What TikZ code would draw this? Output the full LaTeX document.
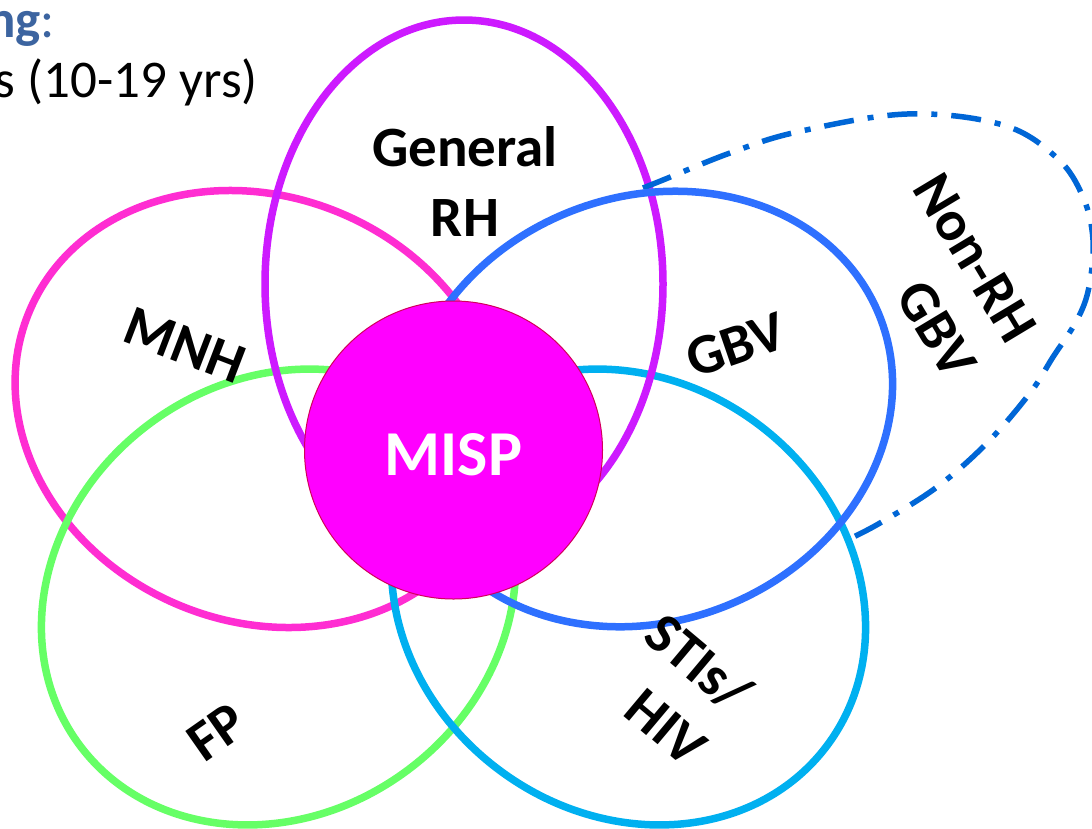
\documentclass[tikz,border=0pt]{standalone}
\usepackage{fontspec}
\setmainfont{Carlito}
\definecolor{cMNH}{RGB}{255,45,210}
\definecolor{cRH}{RGB}{205,26,255}
\definecolor{cGBV}{RGB}{46,112,255}
\definecolor{cFP}{RGB}{102,255,102}
\definecolor{cSTI}{RGB}{0,176,240}
\definecolor{cDash}{RGB}{0,102,214}
\definecolor{cMISP}{RGB}{255,0,255}
\definecolor{cMISPb}{RGB}{210,0,90}
\definecolor{cTitle}{RGB}{60,100,160}
\begin{document}
\begin{tikzpicture}[x=1pt,y=1pt,
  petal/.style={line width=7.5pt},
  dashdotline/.style={line width=5.5pt, color=cDash, dash pattern=on 30pt off 14pt on 6pt off 14pt},
  lbl/.style={font=\bfseries\fontsize{57}{70}\selectfont, text=black, inner sep=0pt},
  toptext/.style={font=\fontsize{53}{64}\selectfont, inner sep=0pt}
]
\useasboundingbox (0,0) rectangle (1092,-828);
\clip (0,0) rectangle (1092,-828);
\fill[white] (0,0) rectangle (1092,-828);

% top-left text
\node[toptext, anchor=base east, text=cTitle] (title) at (55,-37) {\textbf{ng}:};
\node[toptext, anchor=base east, text=black] (age) at (258,-97) {s (10-19 yrs)};

% petals
\draw[petal, cMNH, rotate around={-23.5:(259.5,-409)}] (259.5,-409) ellipse [x radius=250, y radius=212];
\draw[petal, cFP, rotate around={36.7:(278.5,-597)}] (278.5,-597) ellipse [x radius=248, y radius=216];
\draw[petal, cSTI, rotate around={-36.7:(628.5,-597)}] (628.5,-597) ellipse [x radius=248, y radius=216];
\draw[petal, cRH] (464,-284) ellipse [x radius=199, y radius=264];

% Non-RH GBV outline
\draw[dashdotline] plot[smooth, tension=0.6] coordinates {
 (643,-188) (663,-180) (730,-153) (797,-132) (907,-114) (1003,-125)
 (1057,-158) (1083,-197) (1093,-240) (1089,-287) (1077,-320) (1053,-357)
 (1030,-393) (987,-443) (937,-487) (880,-523) (847,-540)};

\draw[petal, cGBV, rotate around={22:(647.5,-409)}] (647.5,-409) ellipse [x radius=250, y radius=212];

% centre
\node[circle, minimum size=298, inner sep=0pt, fill=cMISP, draw=cMISPb, line width=1pt] (misp) at (453.5,-450) {};
\node[font=\bfseries\fontsize{64}{70}\selectfont, text=white, inner sep=0pt] (misplabel) at (453.5,-455) {MISP};

% labels
\node[lbl, align=center] (rh) at (465,-181.5) {General\\RH};
\node[lbl, rotate=-21] (mnh) at (185,-345) {MNH};
\node[lbl, rotate=19] (gbv) at (736,-345) {GBV};
\node[lbl, rotate=-59, align=right] (nonrh) at (945,-276) {Non-RH\\GBV};
\node[lbl, rotate=-40, align=right] (sti) at (677,-689) {STIs/\\HIV};
\node[lbl, rotate=35] (fp) at (217,-732) {FP};
\end{tikzpicture}
\end{document}
